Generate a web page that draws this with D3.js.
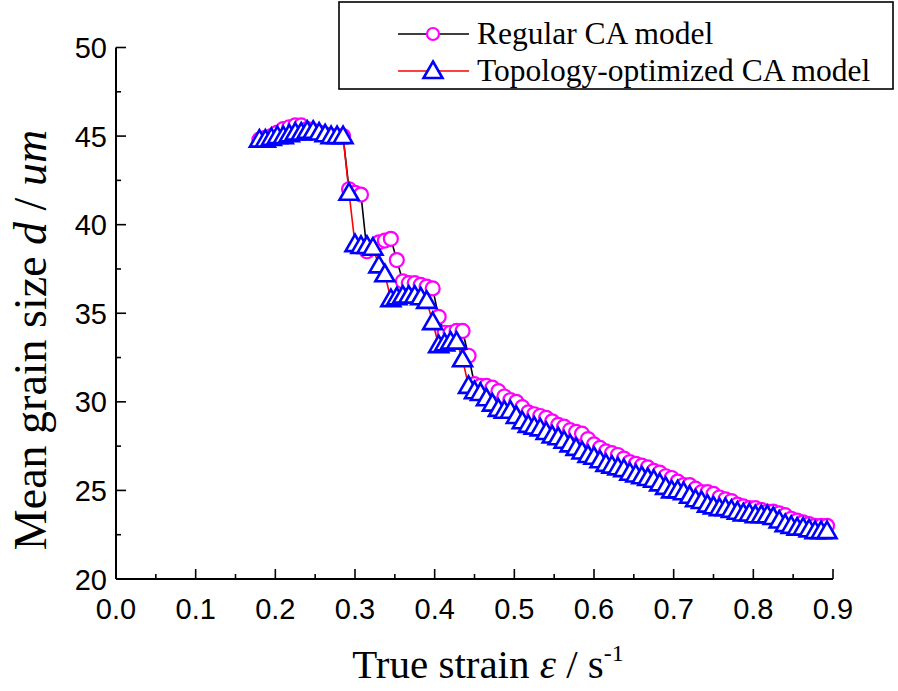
<!DOCTYPE html>
<html><head><meta charset="utf-8">
<script src="https://cdn.jsdelivr.net/npm/d3@7"></script>
<style>body{margin:0;background:#fff}svg{display:block}</style>
</head><body>
<svg id="chart" width="898" height="691"></svg>
<script>
const strain = [0.180,0.1875,0.195,0.2025,0.210,0.2175,0.225,0.2325,0.240,0.2475,0.255,0.2625,0.270,0.2775,0.285,0.2925,0.300,0.3075,0.315,0.3225,0.330,0.3375,0.345,0.3525,0.360,0.3675,0.375,0.3825,0.390,0.3975,0.405,0.4125,0.420,0.4275,0.435,0.4425,0.450,0.4575,0.465,0.4725,0.480,0.4875,0.495,0.5025,0.510,0.5175,0.525,0.5325,0.540,0.5475,0.555,0.5625,0.570,0.5775,0.585,0.5925,0.600,0.6075,0.615,0.6225,0.630,0.6375,0.645,0.6525,0.660,0.6675,0.675,0.6825,0.690,0.6975,0.705,0.7125,0.720,0.7275,0.735,0.7425,0.750,0.7575,0.765,0.7725,0.780,0.7875,0.795,0.8025,0.810,0.8175,0.825,0.8325,0.840,0.8475,0.855,0.8625,0.870,0.8775,0.885,0.8925];
const regular = [44.8,44.9,45.0,45.2,45.4,45.5,45.6,45.6,45.4,45.3,45.2,45.1,45.0,45.0,45.0,42.0,41.8,41.7,38.5,38.7,39.0,39.1,39.2,38.0,36.8,36.7,36.7,36.6,36.5,36.4,34.8,33.9,33.9,34.0,34.0,32.6,31.0,30.9,30.9,30.8,30.6,30.3,30.1,30.0,29.7,29.4,29.3,29.2,29.1,28.9,28.7,28.6,28.4,28.3,28.2,27.9,27.6,27.4,27.2,27.1,27.0,26.8,26.6,26.5,26.4,26.3,26.1,26.0,25.8,25.7,25.5,25.3,25.3,25.1,24.9,24.9,24.8,24.6,24.5,24.4,24.2,24.1,24.0,24.0,23.9,23.8,23.8,23.7,23.6,23.4,23.3,23.2,23.1,23.0,23.0,23.0];
const topology = [44.8,44.8,44.9,45.0,45.0,45.1,45.2,45.2,45.3,45.3,45.2,45.1,45.0,45.0,45.0,41.8,38.9,38.8,38.8,38.7,37.7,37.2,35.8,35.9,36.0,36.0,36.0,35.9,35.7,34.5,33.2,33.3,33.4,33.4,32.4,30.9,30.6,30.5,30.2,29.9,29.6,29.5,29.5,29.2,28.9,28.7,28.6,28.5,28.3,28.1,28.0,27.8,27.6,27.4,27.2,27.0,26.9,26.7,26.5,26.4,26.3,26.2,26.0,25.9,25.8,25.7,25.6,25.4,25.2,25.0,25.0,24.9,24.7,24.5,24.4,24.2,24.1,24.0,24.0,23.9,23.8,23.7,23.7,23.6,23.6,23.6,23.5,23.3,23.1,23.0,22.9,22.9,22.8,22.7,22.7,22.7];
const xTicks = [0.0,0.1,0.2,0.3,0.4,0.5,0.6,0.7,0.8,0.9];
const yTicks = [20,25,30,35,40,45,50];
const seriesNames = ["Regular CA model","Topology-optimized CA model"];

const svg = d3.select("#chart");
const x = d3.scaleLinear().domain([0,0.9]).range([116,833]);
const y = d3.scaleLinear().domain([20,50]).range([579,47.5]);

// axes
const xMinor = d3.range(0,0.9001,0.05);
const yMinor = d3.range(20,50.01,2.5);
const ax = svg.append("g");
ax.append("line").attr("x1",x(0)).attr("x2",x(0.9)).attr("y1",y(20)).attr("y2",y(20)).attr("stroke","#000").attr("stroke-width",2);
ax.append("line").attr("x1",x(0)).attr("x2",x(0)).attr("y1",y(20)).attr("y2",y(50)).attr("stroke","#000").attr("stroke-width",2);
ax.selectAll(".xm").data(xMinor).join("line").attr("x1",d=>x(d)).attr("x2",d=>x(d))
  .attr("y1",y(20)).attr("y2",d=>y(20)-(Math.abs(d*10-Math.round(d*10))<1e-6?10:5)).attr("stroke","#000").attr("stroke-width",1.6);
ax.selectAll(".ym").data(yMinor).join("line").attr("y1",d=>y(d)).attr("y2",d=>y(d))
  .attr("x1",x(0)).attr("x2",d=>x(0)+(d%5===0?10:5)).attr("stroke","#000").attr("stroke-width",1.6);
ax.selectAll(".xl").data(xTicks).join("text").attr("x",d=>x(d)).attr("y",y(20)+40)
  .attr("text-anchor","middle").attr("font-family","Liberation Sans, Arial, sans-serif").attr("font-size",29)
  .text(d=>d.toFixed(1));
ax.selectAll(".yl").data(yTicks).join("text").attr("x",x(0)-9).attr("y",d=>y(d)+10.5)
  .attr("text-anchor","end").attr("font-family","Liberation Sans, Arial, sans-serif").attr("font-size",29)
  .text(d=>d);

// titles
const yt = svg.append("text").attr("transform","translate(46,340) rotate(-90)").attr("text-anchor","middle")
  .attr("font-family","Liberation Serif, Times New Roman, serif").attr("font-size",46);
yt.append("tspan").text("Mean grain size ");
yt.append("tspan").attr("font-style","italic").text("d");
yt.append("tspan").text(" / ");
yt.append("tspan").attr("font-style","italic").text("um");

const xt = svg.append("text").attr("x",488).attr("y",678).attr("text-anchor","middle")
  .attr("font-family","Liberation Serif, Times New Roman, serif").attr("font-size",41);
xt.append("tspan").text("True strain  ");
xt.append("tspan").attr("font-style","italic").text("ε");
xt.append("tspan").text(" / s");
xt.append("tspan").attr("font-size",24).attr("dy",-17).text("-1");

// data
const regData = strain.map((s,i)=>[s,regular[i]]);
const topData = strain.map((s,i)=>[s,topology[i]]);
const line = d3.line().x(d=>x(d[0])).y(d=>y(d[1]));
const triPath = "M0,-9.5L9.5,7L-9.5,7Z";

svg.append("path").datum(regData).attr("d",line).attr("fill","none").attr("stroke","#000").attr("stroke-width",1.6);
svg.append("path").datum(topData).attr("d",line).attr("fill","none").attr("stroke","#ff0000").attr("stroke-width",1.6);
svg.append("g").selectAll("circle").data(regData).join("circle")
  .attr("cx",d=>x(d[0])).attr("cy",d=>y(d[1])).attr("r",7)
  .attr("fill","#fff").attr("stroke","#ff00ff").attr("stroke-width",2.2);
svg.append("g").selectAll("path").data(topData).join("path")
  .attr("transform",d=>`translate(${x(d[0])},${y(d[1])})`).attr("d",triPath)
  .attr("fill","#fff").attr("stroke","#0000ff").attr("stroke-width",2.6).attr("stroke-linejoin","miter");

// legend
const lg = svg.append("g");
lg.append("rect").attr("x",339).attr("y",2).attr("width",554).attr("height",87).attr("fill","#fff").attr("stroke","#000").attr("stroke-width",1.6);
const rows = [{name:seriesNames[0],col:"#000",mark:"c",yy:34},{name:seriesNames[1],col:"#ff0000",mark:"t",yy:71}];
rows.forEach(r=>{
  lg.append("line").attr("x1",398).attr("x2",469).attr("y1",r.yy).attr("y2",r.yy).attr("stroke",r.col).attr("stroke-width",1.6);
  if(r.mark==="c") lg.append("circle").attr("cx",433).attr("cy",r.yy).attr("r",6).attr("fill","#fff").attr("stroke","#ff00ff").attr("stroke-width",2.2);
  else lg.append("path").attr("transform",`translate(433,${r.yy})`).attr("d",triPath).attr("fill","#fff").attr("stroke","#0000ff").attr("stroke-width",2.6);
  lg.append("text").attr("x",477).attr("y",r.yy+10).attr("font-family","Liberation Serif, Times New Roman, serif").attr("font-size",31.5).text(r.name);
});
</script>
</body></html>
